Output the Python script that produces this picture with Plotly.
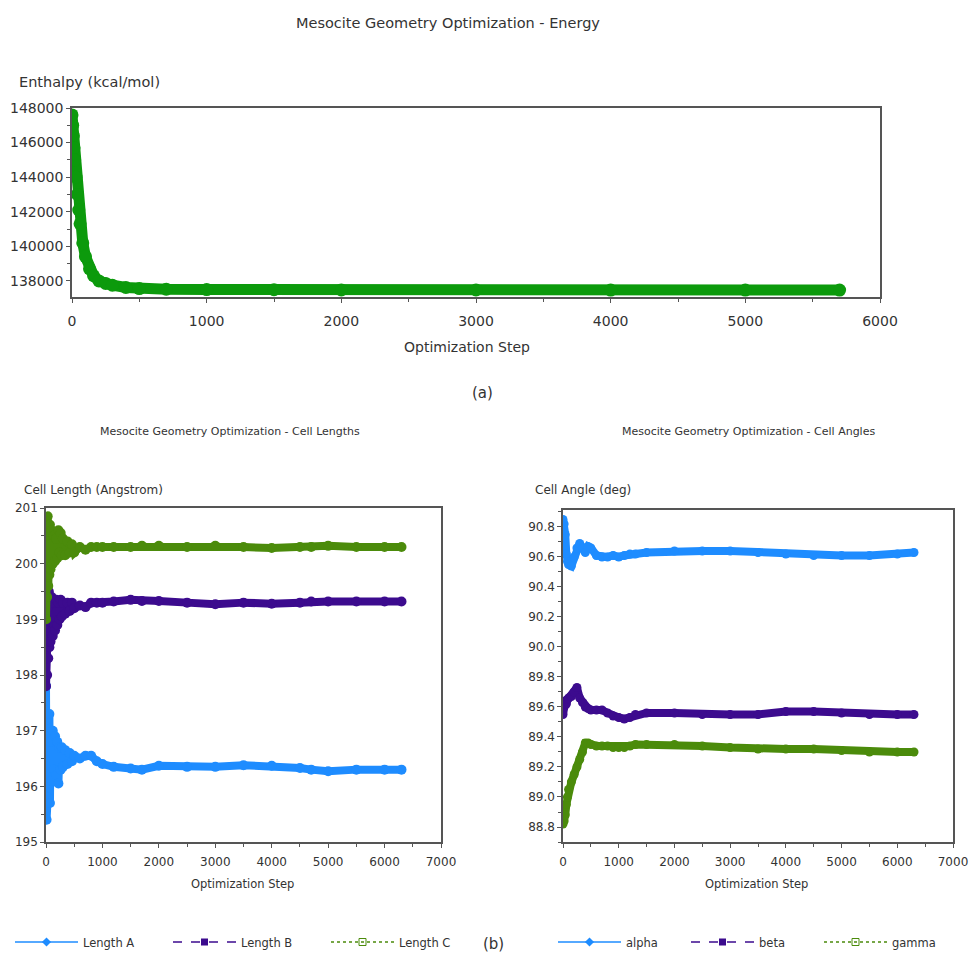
import plotly.graph_objects as go

# ---------------- data ----------------
energy_step = [0, 5, 10, 15, 20, 30, 40, 50, 60, 80, 100, 130, 160, 200, 250, 300, 400,
               500, 700, 1000, 1500, 2000, 3000, 4000, 5000, 5700]
energy_val = [147600, 147000, 146400, 145700, 145000, 144000, 143000, 142100, 141300, 140200,
              139400, 138700, 138300, 138000, 137850, 137750, 137620, 137560, 137520, 137500,
              137490, 137480, 137475, 137470, 137470, 137470]

len_step = [0, 10, 20, 30, 40, 50, 60, 70, 80, 100, 120, 140, 160, 180, 200, 220, 240, 260, 280,
            300, 340, 380, 420, 460, 500, 600, 700, 800, 900, 1000, 1200, 1500, 1700, 2000, 2500,
            3000, 3500, 4000, 4500, 4700, 5000, 5500, 6000, 6300]
len_a = [197.8, 195.4, 197.2, 195.8, 196.9, 196.0, 197.3, 195.7, 196.8, 196.1, 197.0, 196.3, 196.9,
         196.2, 196.8, 196.05, 196.7, 196.3, 196.7, 196.35, 196.65, 196.4, 196.6, 196.45, 196.55,
         196.5, 196.55, 196.55, 196.45, 196.4, 196.35, 196.32, 196.3, 196.37, 196.35, 196.35,
         196.38, 196.37, 196.33, 196.3, 196.27, 196.3, 196.3, 196.3]
len_b = [197.8, 198.8, 198.0, 199.2, 198.3, 199.5, 198.5, 199.4, 198.6, 199.4, 198.7, 199.3, 198.8,
         199.35, 198.9, 199.3, 199.0, 199.35, 199.05, 199.3, 199.1, 199.3, 199.15, 199.3, 199.2,
         199.25, 199.22, 199.3, 199.3, 199.3, 199.32, 199.35, 199.33, 199.33, 199.3, 199.27,
         199.3, 199.28, 199.3, 199.32, 199.32, 199.32, 199.32, 199.32]
len_c = [199.0, 200.5, 199.4, 200.85, 199.6, 200.6, 199.8, 200.7, 199.9, 200.6, 200.0, 200.5, 200.05,
         200.45, 200.1, 200.6, 200.2, 200.55, 200.15, 200.45, 200.15, 200.4, 200.2, 200.35, 200.2,
         200.3, 200.25, 200.3, 200.3, 200.3, 200.3, 200.3, 200.32, 200.32, 200.3, 200.32,
         200.3, 200.28, 200.3, 200.3, 200.32, 200.3, 200.3, 200.3]

ang_step = [0, 20, 40, 60, 80, 100, 150, 200, 250, 300, 350, 400, 450, 500, 600, 700, 800, 900,
            1000, 1100, 1200, 1300, 1500, 2000, 2500, 3000, 3500, 4000, 4500, 5000, 5500, 6000, 6300]
alpha = [90.85, 90.82, 90.75, 90.62, 90.57, 90.55, 90.54, 90.6, 90.66, 90.69, 90.66, 90.63, 90.67,
         90.66, 90.61, 90.6, 90.6, 90.61, 90.6, 90.61, 90.62, 90.62, 90.63, 90.64, 90.64, 90.64,
         90.63, 90.62, 90.61, 90.61, 90.61, 90.62, 90.63]
beta = [89.55, 89.6, 89.64, 89.62, 89.65, 89.66, 89.67, 89.7, 89.73, 89.66, 89.63, 89.6, 89.59,
        89.58, 89.58, 89.58, 89.56, 89.54, 89.53, 89.52, 89.53, 89.55, 89.56, 89.56, 89.55, 89.55,
        89.55, 89.57, 89.57, 89.56, 89.55, 89.55, 89.55]
gamma = [88.82, 88.84, 88.88, 88.95, 89.0, 89.05, 89.1, 89.15, 89.2, 89.25, 89.3, 89.36, 89.36,
         89.35, 89.34, 89.34, 89.34, 89.33, 89.33, 89.33, 89.34, 89.35, 89.35, 89.35, 89.34, 89.33,
         89.32, 89.32, 89.32, 89.31, 89.3, 89.3, 89.3]

BLUE = "#1e8cff"
PURPLE = "#3c0b8e"
OLIVE = "#4b8b0b"
GREEN = "#0c9a0c"
FONT = "DejaVu Sans"
TXT = "#333333"
AX = "#555555"

W, H = 969, 958


def px(x):
    return x / W


def py(y):
    return 1 - y / H


fig = go.Figure()

# top chart
fig.add_trace(go.Scatter(x=energy_step, y=energy_val, mode="lines+markers",
                         line=dict(color=GREEN, width=11), marker=dict(color=GREEN, size=13),
                         showlegend=False, xaxis="x", yaxis="y"))

# lengths
for vals, col in [(len_a, BLUE), (len_b, PURPLE), (len_c, OLIVE)]:
    fig.add_trace(go.Scatter(x=len_step, y=vals, mode="lines+markers",
                             line=dict(color=col, width=8), marker=dict(color=col, size=10),
                             showlegend=False, xaxis="x2", yaxis="y2"))
# angles
for vals, col in [(alpha, BLUE), (beta, PURPLE), (gamma, OLIVE)]:
    fig.add_trace(go.Scatter(x=ang_step, y=vals, mode="lines+markers",
                             line=dict(color=col, width=8), marker=dict(color=col, size=9),
                             showlegend=False, xaxis="x3", yaxis="y3"))

# legend entries
leg_specs = [
    ("Length A", BLUE, "solid", "diamond", "legend", "x2", "y2"),
    ("Length B", PURPLE, "dash", "square", "legend", "x2", "y2"),
    ("Length C", OLIVE, "dot", "square-open", "legend", "x2", "y2"),
    ("alpha", BLUE, "solid", "diamond", "legend2", "x3", "y3"),
    ("beta", PURPLE, "dash", "square", "legend2", "x3", "y3"),
    ("gamma", OLIVE, "dot", "square-open", "legend2", "x3", "y3"),
]
for name, col, dash, sym, leg, xa, ya in leg_specs:
    fig.add_trace(go.Scatter(x=[None], y=[None], mode="lines+markers", name=name,
                             line=dict(color=col, width=1.5, dash=dash),
                             marker=dict(color=col, symbol=sym, size=7),
                             legend=leg, xaxis=xa, yaxis=ya))


def axis(**kw):
    d = dict(showline=True, linecolor=AX, linewidth=1.5, mirror=True,
             showgrid=False, zeroline=False, ticks="outside", ticklen=4,
             tickcolor=AX, automargin=False)
    d.update(kw)
    return d


top_font = dict(family=FONT, color=TXT, size=14)
bot_font = dict(family=FONT, color=TXT, size=12)

fig.update_layout(
    template="none",
    width=W, height=H, margin=dict(l=0, r=0, t=0, b=0, autoexpand=False),
    paper_bgcolor="white", plot_bgcolor="white",
    font=dict(family=FONT, color=TXT, size=11),
    xaxis=axis(domain=[px(72), px(880)], range=[0, 6000], anchor="y", dtick=1000,
               tickfont=top_font, ticklabelstandoff=6,
               minor=dict(ticks="outside", ticklen=3, dtick=500, tickcolor=AX)),
    yaxis=axis(domain=[py(297), py(108)], range=[137070, 148000], anchor="x", dtick=2000,
               tickformat="d", tickfont=top_font,
               minor=dict(ticks="outside", ticklen=3, dtick=1000, tickcolor=AX)),
    xaxis2=axis(domain=[px(46), px(441)], range=[0, 7000], anchor="y2", dtick=1000,
                tickfont=bot_font, ticklabelstandoff=4,
                minor=dict(ticks="outside", ticklen=3, dtick=500, tickcolor=AX)),
    yaxis2=axis(domain=[py(842), py(508)], range=[195, 201], anchor="x2", dtick=1,
                tickfont=bot_font,
                minor=dict(ticks="outside", ticklen=3, dtick=0.5, tickcolor=AX)),
    xaxis3=axis(domain=[px(563), px(953)], range=[0, 7000], anchor="y3", dtick=1000,
                tickfont=bot_font, ticklabelstandoff=4,
                minor=dict(ticks="outside", ticklen=3, dtick=500, tickcolor=AX)),
    yaxis3=axis(domain=[py(842), py(510)], range=[88.7, 90.913], anchor="x3", dtick=0.2,
                tickformat=".1f", tickfont=bot_font,
                minor=dict(ticks="outside", ticklen=3, dtick=0.1, tickcolor=AX)),
    legend=dict(orientation="h", x=px(10), y=py(942), xanchor="left", yanchor="middle",
                font=dict(family=FONT, size=11.5, color=TXT), itemwidth=63,
                entrywidth=80, bgcolor="rgba(0,0,0,0)"),
    legend2=dict(orientation="h", x=px(553), y=py(942), xanchor="left", yanchor="middle",
                 font=dict(family=FONT, size=11.5, color=TXT), itemwidth=63,
                 entrywidth=55, bgcolor="rgba(0,0,0,0)"),
)

ann = [
    ("Mesocite Geometry Optimization - Energy", 448, 23, "center", 14.5),
    ("Enthalpy (kcal/mol)", 17, 82, "left", 14.5),
    ("Optimization Step", 467, 347, "center", 14),
    ("(a)", 482, 393, "center", 15),
    ("Mesocite Geometry Optimization - Cell Lengths", 230, 432, "center", 11),
    ("Cell Length (Angstrom)", 22, 490, "left", 12),
    ("Optimization Step", 242, 884, "center", 11.5),
    ("Mesocite Geometry Optimization - Cell Angles", 748, 432, "center", 11),
    ("Cell Angle (deg)", 533, 490, "left", 12),
    ("Optimization Step", 756, 884, "center", 11.5),
    ("(b)", 494, 944, "center", 15),
]
for text, x, y, xa, size in ann:
    fig.add_annotation(text=text, x=px(x), y=py(y), xref="paper", yref="paper",
                       xanchor=xa, yanchor="middle", showarrow=False,
                       font=dict(family=FONT, size=size, color=TXT))

fig.write_html("out.html", config={"displayModeBar": False},
               post_script="document.body.style.margin='0px';")
